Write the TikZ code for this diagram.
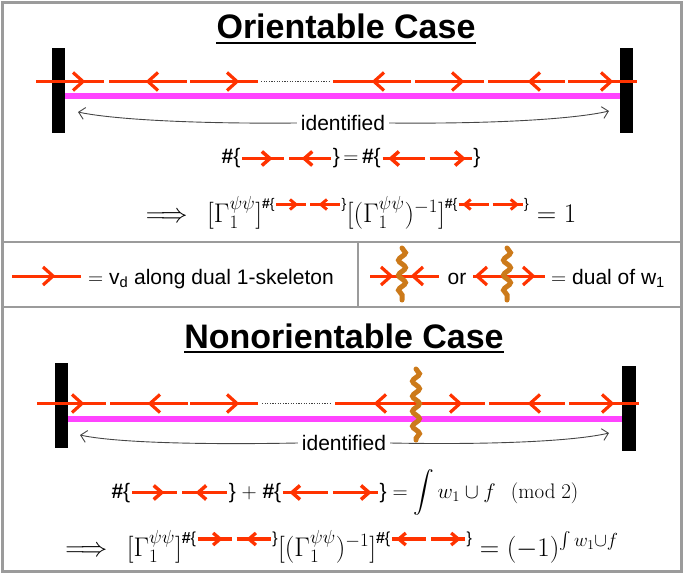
\RequirePackage{fix-cm}
\documentclass[tikz,border=0pt]{standalone}
\usepackage{amsmath}
\usepackage[no-math]{fontspec}
\newfontfamily\hv{Liberation Sans}
\usetikzlibrary{arrows.meta,decorations.pathmorphing}
\definecolor{redline}{RGB}{255,51,0}
\definecolor{magline}{RGB}{255,68,255}
\definecolor{wavyc}{RGB}{204,122,26}
\definecolor{framec}{RGB}{155,155,155}
\definecolor{arcc}{RGB}{70,70,70}
\newcommand\hs{\textbf{\#}}
% #1 segment length, #2 gap, #3 line width, #4 chevron half height, #5 chevron depth, #6 axis height
\newcommand\symconv[6]{\tikz[x=1bp,y=1bp,baseline=-#6bp,line width=#3bp,color=redline,line join=miter]{%
 \path (0,-#4) (2*#1+#2,#4);
 \draw (0,0) -- (#1,0) (#1+#2,0) -- (2*#1+#2,0);
 \draw (0.66*#1-#5,#4) -- (0.66*#1,0) -- (0.66*#1-#5,-#4);
 \draw (1.36*#1+#2+#5,#4) -- (1.36*#1+#2,0) -- (1.36*#1+#2+#5,-#4);}}
\newcommand\symdivg[6]{\tikz[x=1bp,y=1bp,baseline=-#6bp,line width=#3bp,color=redline,line join=miter]{%
 \path (0,-#4) (2*#1+#2,#4);
 \draw (0,0) -- (#1,0) (#1+#2,0) -- (2*#1+#2,0);
 \draw (0.2*#1+#5,#4) -- (0.2*#1,0) -- (0.2*#1+#5,-#4);
 \draw (1.8*#1+#2-#5,#4) -- (1.8*#1+#2,0) -- (1.8*#1+#2-#5,-#4);}}
\newcommand\bigconv{{\hv\hs\{\symconv{42}{5}{3.5}{7}{8}{5.5}\}}}
\newcommand\bigdivg{{\hv\hs\{\symdivg{42}{5}{3.5}{7}{8}{5.5}\}}}
\newcommand\bigconvB{{\hv\hs\{\symconv{45}{5}{3.5}{7}{8}{5.5}\}}}
\newcommand\bigdivgB{{\hv\hs\{\symdivg{45}{5}{3.5}{7}{8}{5.5}\}}}
\newcommand\supconv{\mbox{\raisebox{4bp}{\hv\fontsize{14bp}{16bp}\selectfont\hs\{\symconv{30}{4}{3}{5}{6}{3.7}\}}}}
\newcommand\supdivg{\mbox{\raisebox{4bp}{\hv\fontsize{14bp}{16bp}\selectfont\hs\{\symdivg{30}{4}{3}{5}{6}{3.7}\}}}}
\newcommand\supconvB{\mbox{\raisebox{3bp}{\hv\fontsize{16bp}{18bp}\selectfont\hs\{\symconv{34}{5}{3.3}{6}{7}{4.2}\}}}}
\newcommand\supdivgB{\mbox{\raisebox{3bp}{\hv\fontsize{16bp}{18bp}\selectfont\hs\{\symdivg{34}{5}{3.3}{6}{7}{4.2}\}}}}
\newcommand\chR[2]{\draw[chev] (#1-10,#2-9) -- (#1,#2) -- (#1-10,#2+9);}
\newcommand\chL[2]{\draw[chev] (#1+10,#2-9) -- (#1,#2) -- (#1+10,#2+9);}
\tikzset{
 redseg/.style={redline, line width=3bp},
 chev/.style={redline, line width=3.2bp, line join=miter},
 magbar/.style={magline, line width=6bp},
 dotline/.style={black!75, line width=1.2bp, dash pattern=on 1.2bp off 1.4bp},
 idarc/.style={arcc, line width=0.9bp, -{Straight Barb[length=6bp,width=12bp]}},
 wavy/.style={wavyc, line width=5bp, line cap=round, decorate, decoration={snake, amplitude=3.5bp, segment length=15bp}},
 framel/.style={framec, line width=2.5bp},
 txt/.style={font=\hv\fontsize{21bp}{25bp}\selectfont},
 ttl/.style={font=\hv\bfseries\fontsize{34bp}{40bp}\selectfont, inner sep=0pt, anchor=base},
 eqn/.style={inner sep=0pt, anchor=base},
}
\begin{document}
\begin{tikzpicture}[x=1bp,y=-1bp]
\useasboundingbox (0,0) rectangle (685,575);
% frame
\draw[framel] (2.5,2.5) rectangle (681.5,571.5);
\draw[framel] (2.5,242) -- (681.5,242) (2.5,307) -- (681.5,307) (358,242) -- (358,307);

% ---------- Orientable case ----------
\node[ttl] (t1) at (346,39) {Orientable Case};
\draw[line width=2bp] ([yshift=-4bp]t1.base west) -- ([yshift=-4bp]t1.base east);
\fill (52,48) rectangle (65,133);
\fill (620,48) rectangle (633,133);
\draw[magbar] (65,96) -- (620,96);
\draw[redseg] (36,81.5)--(104,81.5) (109,81.5)--(187,81.5) (190,81.5)--(258,81.5)
  (333,81.5)--(411,81.5) (415,81.5)--(484,81.5) (488,81.5)--(565,81.5) (568,81.5)--(637,81.5);
\draw[dotline] (261,81.5) -- (330,81.5);
\chR{83}{81.5} \chL{148}{81.5} \chR{237}{81.5} \chL{374}{81.5} \chR{462}{81.5} \chL{530}{81.5} \chR{611}{81.5}
\node[txt, inner sep=4bp] (id1) at (343,123) {identified};
\coordinate (a1) at (78,112);
\coordinate (b1) at (609,111);
\draw[idarc] (id1.west) .. controls (190,124) and (110,119) .. (a1);
\draw[idarc] (id1.east) .. controls (495,124) and (575,119) .. (b1);
\node[eqn, txt] (e1) at (351,164) {\bigconv\,$=$\,\bigdivg};
\node[eqn, font=\fontsize{27bp}{30bp}\selectfont] (e2) at (361,222)
  {$\Longrightarrow\;\,[\Gamma_1^{\psi\psi}]^{\supconv}[(\Gamma_1^{\psi\psi})^{-1}]^{\supdivg}=1$};

% ---------- legend ----------
\draw[redseg] (12,276) -- (81,276);
\chR{53}{276}
\node[txt, anchor=base west, inner sep=0pt] (l1) at (88,284) {$=$\ v\textsubscript{d} along dual 1-skeleton};
\draw[redseg] (370,276) -- (439,276);
\chR{391}{276} \chL{413}{276}
\draw[wavy] (402,248) -- (402,300);
\node[txt, anchor=base, inner sep=0pt] (or) at (457,284) {or};
\draw[redseg] (473,276) -- (545,276);
\chL{477}{276} \chR{533}{276}
\draw[wavy] (507,248) -- (507,300);
\node[txt, anchor=base west, inner sep=0pt] (l2) at (551,284) {$=$\ dual of w\textsubscript{1}};

% ---------- Nonorientable case ----------
\node[ttl] (t2) at (344,348) {Nonorientable Case};
\draw[line width=2bp] ([yshift=-4bp]t2.base west) -- ([yshift=-4bp]t2.base east);
\fill (55,363) rectangle (68,448);
\fill (622,366) rectangle (636,451);
\draw[magbar] (68,418.5) -- (622,418.5);
\draw[redseg] (37,403.5)--(106,403.5) (110,403.5)--(188,403.5) (190,403.5)--(258,403.5)
  (335,403.5)--(485,403.5) (489,403.5)--(565,403.5) (569,403.5)--(639,403.5);
\draw[dotline] (262,403.5) -- (331,403.5);
\chR{82}{403.5} \chL{150}{403.5} \chR{237}{403.5} \chL{376}{403.5} \chR{460}{403.5} \chL{530}{403.5} \chR{612}{403.5}
\draw[wavy] (416,369) -- (416,440);
\node[txt, inner sep=4bp] (id2) at (344,443) {identified};
\coordinate (a2) at (80,435);
\coordinate (b2) at (609,433);
\draw[idarc] (id2.west) .. controls (190,445) and (112,442) .. (a2);
\draw[idarc] (id2.east) .. controls (495,445) and (575,441) .. (b2);
\node[eqn, txt] (e3) at (345,498)
  {\bigconvB\ $+$\ \bigdivgB\ $=\displaystyle\int w_1\cup f\;\;\,(\mathrm{mod}\ 2)$};
\node[eqn, font=\fontsize{27bp}{30bp}\selectfont] (e4) at (342,556)
  {$\Longrightarrow\;\,[\Gamma_1^{\psi\psi}]^{\supconvB}[(\Gamma_1^{\psi\psi})^{-1}]^{\supdivgB}=(-1)^{\int w_1\cup f}$};
\end{tikzpicture}
\end{document}
